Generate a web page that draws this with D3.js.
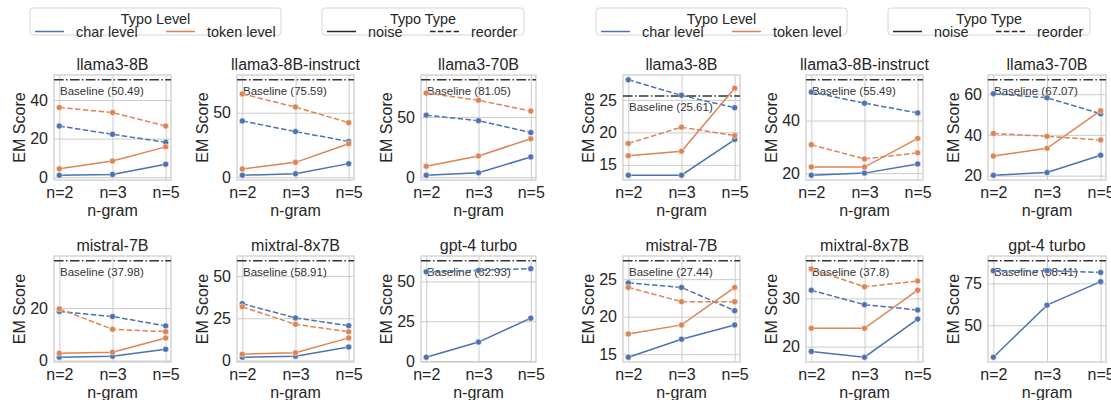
<!DOCTYPE html>
<html>
<head>
<meta charset="utf-8">
<script src="https://cdn.jsdelivr.net/npm/d3@7"></script>
<style>
  body { margin: 0; background: #ffffff; }
  svg { display: block; font-family: "Liberation Sans", Arial, sans-serif; }
</style>
</head>
<body>
<script>
// ---------------- DATA ----------------
const nGrams = ["n=2", "n=3", "n=5"];
const models = ["llama3-8B", "llama3-8B-instruct", "llama3-70B", "mistral-7B", "mixtral-8x7B", "gpt-4 turbo"];

// Left figure
const leftCharNoise    = [[1.0, 1.4, 6.7], [1.5, 2.6, 10.5], [1.6, 3.6, 16.8], [1.3, 1.7, 4.3], [2.0, 2.6, 8.0], [2.4, 11.9, 26.9]];
const leftCharReorder  = [[26.5, 22.2, 18.1], [43.6, 35.4, 27.7], [51.6, 47.0, 37.1], [18.7, 16.8, 13.2], [33.6, 25.2, 20.6], [56.0, 56.9, 58.0]];
const leftTokenNoise   = [[4.3, 8.4, 15.7], [6.4, 11.5, 25.9], [9.1, 17.6, 31.9], [2.8, 3.2, 8.6], [3.8, 4.6, 13.4], null];
const leftTokenReorder = [[36.1, 33.5, 26.5], [64.6, 54.4, 42.3], [70.0, 64.0, 55.0], [19.7, 11.9, 11.0], [31.8, 21.4, 17.0], null];
const leftBaseline     = [50.49, 75.59, 81.05, 37.98, 58.91, 62.93];
const leftYTicks       = [[0, 20, 40], [0, 50], [0, 50], [0, 20], [0, 25, 50], [0, 25, 50]];

// Right figure
const rightCharNoise    = [[13.4, 13.4, 18.9], [19.2, 20.0, 23.5], [20.2, 21.5, 30.0], [14.6, 17.0, 18.9], [19.0, 17.8, 25.7], [31.0, 62.0, 76.0]];
const rightCharReorder  = [[28.1, 25.7, 23.8], [50.8, 46.6, 42.9], [60.2, 58.2, 50.4], [24.5, 23.9, 20.8], [31.7, 28.7, 27.6], [82.5, 82.5, 81.5]];
const rightTokenNoise   = [[16.4, 17.1, 26.8], [22.3, 22.3, 33.2], [29.6, 33.4, 51.9], [17.7, 18.9, 23.9], [23.8, 23.8, 31.7], null];
const rightTokenReorder = [[18.3, 20.8, 19.5], [30.8, 25.4, 27.7], [40.7, 39.3, 37.5], [23.9, 22.0, 22.0], [36.1, 32.4, 33.6], null];
const rightBaseline     = [25.61, 55.49, 67.07, 27.44, 37.8, 88.41];
const rightYTicks       = [[15, 20, 25], [20, 40], [20, 40, 60], [15, 20, 25], [20, 30], [50, 75]];

const levelLabels = ["char level", "token level"];
const typeLabels = ["noise", "reorder"];

// ---------------- STYLE / LAYOUT ----------------
const BLUE = "#4c72b0", ORANGE = "#dd8452", GRID = "#cccccc", TEXT = "#262626";
const DASH = "5.5,2.4";
const DASHDOT = "9.6,2.4,1.5,2.4";

const leftCols = [[54, 171], [237, 354], [421, 536]];
const rightCols = [[623, 740], [806, 923], [988, 1106]];
const rowsY = [[75, 180], [256, 362]];

const svg = d3.select("body").append("svg").attr("width", 1111).attr("height", 400);
svg.append("rect").attr("width", 1111).attr("height", 400).attr("fill", "#fff");

function drawPanel(idx, cols, charNoise, charReorder, tokenNoise, tokenReorder, baseline, yTicks) {
  const c = idx % 3, r = Math.floor(idx / 3);
  const [x0, x1] = cols[c];
  const [y0, y1] = rowsY[r];
  const g = svg.append("g");

  const series = [
    { vals: charNoise[idx], color: BLUE, dash: null },
    { vals: charReorder[idx], color: BLUE, dash: DASH },
    { vals: tokenNoise[idx], color: ORANGE, dash: null },
    { vals: tokenReorder[idx], color: ORANGE, dash: DASH }
  ].filter(s => s.vals);

  const all = series.flatMap(s => s.vals).concat([baseline[idx]]);
  const lo = d3.min(all), hi = d3.max(all), pad = (hi - lo) * 0.05;

  const x = d3.scalePoint().domain(nGrams).range([x0, x1]).padding(0.1);
  const y = d3.scaleLinear().domain([lo - pad, hi + pad]).range([y1, y0]);

  // grid
  const yAxis = d3.axisLeft(y).tickValues(yTicks[idx]).tickSize(-(x1 - x0)).tickPadding(6).tickFormat(d3.format("d"));
  const ya = g.append("g").attr("transform", `translate(${x0},0)`).call(yAxis);
  ya.select(".domain").remove();
  ya.selectAll("line").attr("stroke", GRID).attr("stroke-width", 1);
  ya.selectAll("text").attr("fill", TEXT).attr("font-size", 16).attr("font-family", "Liberation Sans, Arial, sans-serif");

  const xAxis = d3.axisBottom(x).tickSize(-(y1 - y0)).tickPadding(7);
  const xa = g.append("g").attr("transform", `translate(0,${y1})`).call(xAxis);
  xa.select(".domain").remove();
  xa.selectAll("line").attr("stroke", GRID).attr("stroke-width", 1);
  xa.selectAll("text").attr("fill", TEXT).attr("font-size", 16).attr("font-family", "Liberation Sans, Arial, sans-serif");

  // spines
  g.append("rect").attr("x", x0).attr("y", y0).attr("width", x1 - x0).attr("height", y1 - y0)
    .attr("fill", "none").attr("stroke", GRID).attr("stroke-width", 1.25);

  // baseline
  const by = y(baseline[idx]);
  g.append("line").attr("x1", x0).attr("x2", x1).attr("y1", by).attr("y2", by)
    .attr("stroke", "#333").attr("stroke-width", 1.5).attr("stroke-dasharray", DASHDOT);
  g.append("text").attr("x", x0 + 6).attr("y", by + 15).attr("font-size", 11.5).attr("fill", "#333")
    .text(`Baseline (${baseline[idx]})`);

  // lines
  const line = d3.line().x((d, i) => x(nGrams[i])).y(d => y(d));
  series.forEach(s => {
    g.append("path").attr("d", line(s.vals)).attr("fill", "none").attr("stroke", s.color)
      .attr("stroke-width", 1.5).attr("stroke-dasharray", s.dash);
    g.selectAll(null).data(s.vals).enter().append("circle")
      .attr("cx", (d, i) => x(nGrams[i])).attr("cy", d => y(d)).attr("r", 3)
      .attr("fill", s.color).attr("stroke", "#fff").attr("stroke-width", 0.5);
  });

  // title and labels
  g.append("text").attr("x", (x0 + x1) / 2).attr("y", y0 - 5).attr("text-anchor", "middle")
    .attr("font-size", 16).attr("fill", TEXT).text(models[idx]);
  g.append("text").attr("x", (x0 + x1) / 2).attr("y", y1 + 36).attr("text-anchor", "middle")
    .attr("font-size", 16).attr("fill", TEXT).text("n-gram");
  g.append("text").attr("transform", `translate(${x0 - 35},${(y0 + y1) / 2}) rotate(-90)`)
    .attr("text-anchor", "middle").attr("dy", "0.35em")
    .attr("font-size", 16).attr("fill", TEXT).text("EM Score");
}

for (let i = 0; i < 6; i++) {
  drawPanel(i, leftCols, leftCharNoise, leftCharReorder, leftTokenNoise, leftTokenReorder, leftBaseline, leftYTicks);
  drawPanel(i, rightCols, rightCharNoise, rightCharReorder, rightTokenNoise, rightTokenReorder, rightBaseline, rightYTicks);
}

// ---------------- LEGENDS ----------------
function drawLegend(bx, by, w, h, title, items) {
  const g = svg.append("g").attr("transform", `translate(${bx},${by})`);
  g.append("rect").attr("width", w).attr("height", h).attr("rx", 3)
    .attr("fill", "#fff").attr("stroke", "#d6d6d6").attr("stroke-width", 1);
  g.append("text").attr("x", w / 2).attr("y", 16).attr("text-anchor", "middle")
    .attr("font-size", 14.4).attr("fill", TEXT).text(title);
  items.forEach(it => {
    g.append("line").attr("x1", it.lx).attr("x2", it.lx + 29).attr("y1", 23.5).attr("y2", 23.5)
      .attr("stroke", it.color).attr("stroke-width", 1.5).attr("stroke-dasharray", it.dash);
    g.append("text").attr("x", it.lx + 41).attr("y", 28.5).attr("font-size", 14.4).attr("fill", TEXT).text(it.label);
  });
}
function legendPair(offset) {
  drawLegend(30 + offset, 8, 251, 27, "Typo Level", [
    { lx: 5, color: BLUE, dash: null, label: levelLabels[0] },
    { lx: 136, color: ORANGE, dash: null, label: levelLabels[1] }
  ]);
  drawLegend(322 + offset, 8, 202, 27, "Typo Type", [
    { lx: 5, color: TEXT, dash: null, label: typeLabels[0] },
    { lx: 108, color: TEXT, dash: DASH, label: typeLabels[1] }
  ]);
}
legendPair(0);
legendPair(566);
</script>
</body>
</html>
